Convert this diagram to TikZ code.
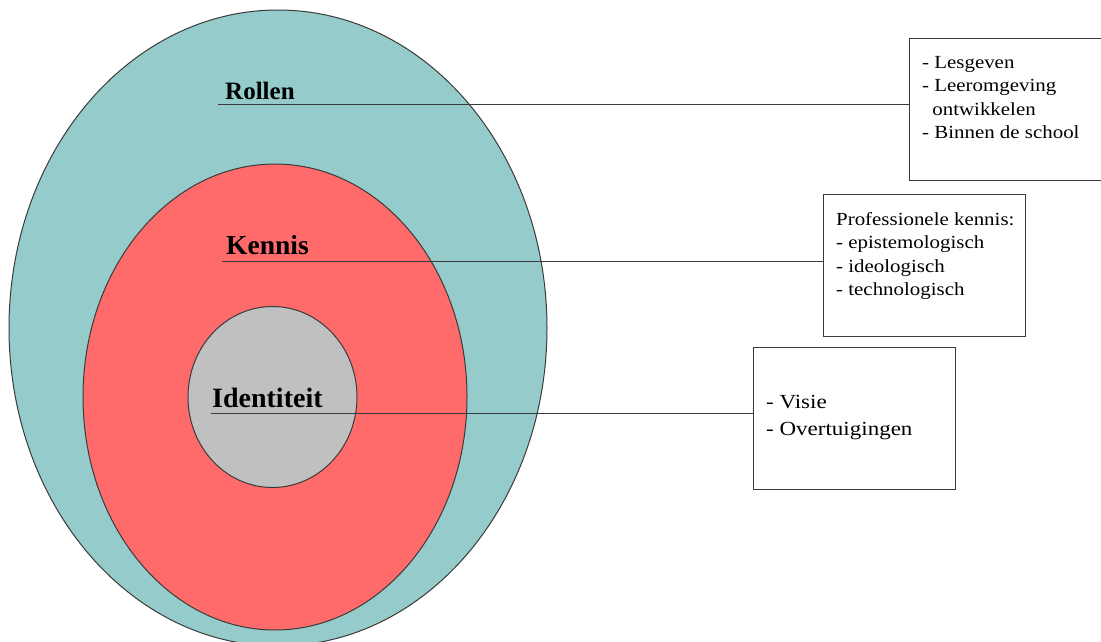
\documentclass[tikz,border=0pt]{standalone}
\usepackage{fontspec}
\setmainfont{Liberation Serif}
\newfontfamily\boxfont[FakeStretch=1.13]{Liberation Serif}
\newfontfamily\boxfontb[FakeStretch=1.15]{Liberation Serif}
\definecolor{tealfill}{HTML}{95CBCB}
\definecolor{redfill}{HTML}{FF6B6B}
\definecolor{grayfill}{HTML}{C0C0C0}
\definecolor{edge}{HTML}{3A3A3A}
\begin{document}
\begin{tikzpicture}[x=1pt,y=-1pt,
  ring/.style={draw=edge,line width=1pt},
  infobox/.style={draw=edge,line width=1pt,rectangle,anchor=north west,inner sep=0pt,minimum height=142pt},
  lbl/.style={anchor=base west,inner sep=0pt,font=\bfseries},
  boxtext/.style={anchor=base west,inner sep=0pt},
  leader/.style={draw=edge,line width=1pt}]
\useasboundingbox (0,0) rectangle (1101,641);
\begin{scope}
\clip (0,0) rectangle (1101,641);
\draw[ring,fill=tealfill] (278,328) ellipse [x radius=269, y radius=318];
\draw[ring,fill=redfill] (275,397) ellipse [x radius=192, y radius=233];
\draw[ring,fill=grayfill] (272.5,397) ellipse [x radius=84.5, y radius=90.5];
\end{scope}
% boxes
\node[infobox,minimum width=191.5pt] (box1) at (909,38) {};
\node[infobox,minimum width=202pt] (box2) at (823,194) {};
\node[infobox,minimum width=202pt] (box3) at (753,347) {};
% labels
\node[lbl,font=\bfseries\fontsize{25}{30}\selectfont] (rollen) at (225,99) {Rollen};
\node[lbl,font=\bfseries\fontsize{27.5}{32}\selectfont] (kennis) at (226,254) {Kennis};
\node[lbl,font=\bfseries\fontsize{28}{32}\selectfont] (identiteit) at (212,407) {Identiteit};
% leaders
\coordinate (r0) at (218,104);
\coordinate (k0) at (222,261);
\coordinate (i0) at (211,413);
\draw[leader] (r0) -- (r0 -| box1.west);
\draw[leader] (k0) -- (k0 -| box2.west);
\draw[leader] (i0) -- (i0 -| box3.west);
% box texts
\node[boxtext] (t1) at (922,68) {\boxfont\fontsize{18.5}{23.5}\selectfont
  \begin{tabular}[t]{@{}l@{}}- Lesgeven\\- Leeromgeving\\\hspace{0.55em}ontwikkelen\\- Binnen de school\end{tabular}};
\node[boxtext] (t2) at (836,225) {\boxfont\fontsize{18.5}{23.5}\selectfont
  \begin{tabular}[t]{@{}l@{}}Professionele kennis:\\- epistemologisch\\- ideologisch\\- technologisch\end{tabular}};
\node[boxtext] (t3) at (766,408) {\boxfontb\fontsize{20}{27.5}\selectfont
  \begin{tabular}[t]{@{}l@{}}- Visie\\- Overtuigingen\end{tabular}};
\end{tikzpicture}
\end{document}
